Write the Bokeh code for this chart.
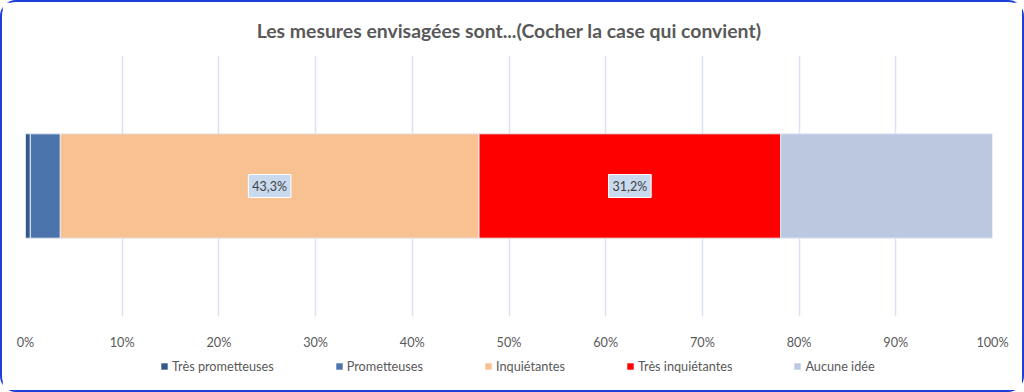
from bokeh.plotting import figure
from bokeh.layouts import column
from bokeh.models import (ColumnDataSource, Range1d, FactorRange, NumeralTickFormatter,
                          Legend, LegendItem, FixedTicker, Label)
from bokeh.embed import file_html
from bokeh.resources import INLINE

# ---- data ----
title_text = "Les mesures envisagées sont...(Cocher la case qui convient)"
category = ["Q"]
series = ["Très prometteuses", "Prometteuses", "Inquiétantes", "Très inquiétantes", "Aucune idée"]
values = [0.005, 0.031, 0.433, 0.312, 0.219]
labelled = ["Inquiétantes", "Très inquiétantes"]
label_texts = ["43,3%", "31,2%"]
tick_values = [0.0, 0.1, 0.2, 0.3, 0.4, 0.5, 0.6, 0.7, 0.8, 0.9, 1.0]

colors = ["#335889", "#4a74ab", "#f8c192", "#ff0000", "#bcc8e0"]
FONT = "Lato"
GREY = "#595959"

p = figure(width=1020, height=350, output_backend="svg", toolbar_location=None,
           x_range=Range1d(0, 1), y_range=FactorRange(factors=category),
           min_border_left=23, min_border_right=30, min_border_top=53, min_border_bottom=29)

p.title.text = title_text
p.title.align = "center"
p.title.text_font = FONT
p.title.text_font_size = "19.4px"
p.title.text_font_style = "bold"
p.title.text_color = GREY
p.title.standoff = 28

data = {"cat": category}
for s, v in zip(series, values):
    data[s] = [v]
src = ColumnDataSource(data)

rs = p.hbar_stack(series, y="cat", height=0.4, color=colors, source=src,
                  line_color="#e4eaf4", line_width=1)

# data labels
cum = 0.0
for s, v in zip(series, values):
    if s in labelled:
        t = label_texts[labelled.index(s)]
        p.add_layout(Label(x=cum + v / 2, y=0.5, text=t, text_align="center",
                           text_baseline="middle", text_font=FONT, text_font_size="12.5px",
                           text_color="#404040", background_fill_color="#c9d9ee",
                           border_line_color="white", border_line_width=1, padding=4))
    cum += v

# axes & grid
p.yaxis.visible = False
p.ygrid.grid_line_color = None
p.xgrid.grid_line_color = "#d9e2f1"
p.xgrid.grid_line_width = 1.5
p.xaxis.ticker = FixedTicker(ticks=tick_values)
p.xaxis.formatter = NumeralTickFormatter(format="0%")
p.xaxis.axis_line_color = None
p.xaxis.major_tick_line_color = None
p.xaxis.minor_tick_line_color = None
p.xaxis.major_label_standoff = 11
p.xaxis.major_label_text_font = FONT
p.xaxis.major_label_text_font_size = "12.7px"
p.xaxis.major_label_text_color = GREY
p.outline_line_color = None

# legend strip (separate small figure under the chart); its bars are flat and out of view
pl = figure(width=1020, height=38, output_backend="svg", toolbar_location=None,
            x_range=Range1d(2, 3), y_range=FactorRange(factors=category),
            x_axis_type=None, y_axis_type=None,
            min_border_left=0, min_border_right=0, min_border_top=0, min_border_bottom=0)
pl.grid.visible = False
pl.outline_line_color = None
leg_renderers = pl.hbar_stack(series, y="cat", height=0, fill_color=colors, line_alpha=0,
                              source=src)
legend = Legend(items=[LegendItem(label=s, renderers=[r]) for s, r in zip(series, leg_renderers)],
                orientation="horizontal", location=(135, 16),
                label_text_font=FONT, label_text_font_size="12.7px", label_text_color=GREY,
                glyph_width=8, glyph_height=8, label_standoff=4, spacing=61,
                padding=0, margin=0, border_line_color=None, background_fill_alpha=0)
pl.add_layout(legend)

layout = column(p, pl, spacing=0,
                styles={"border": "2px solid #1c3fd6", "border-radius": "16px"})

open("out.html", "w").write(file_html(layout, INLINE))
